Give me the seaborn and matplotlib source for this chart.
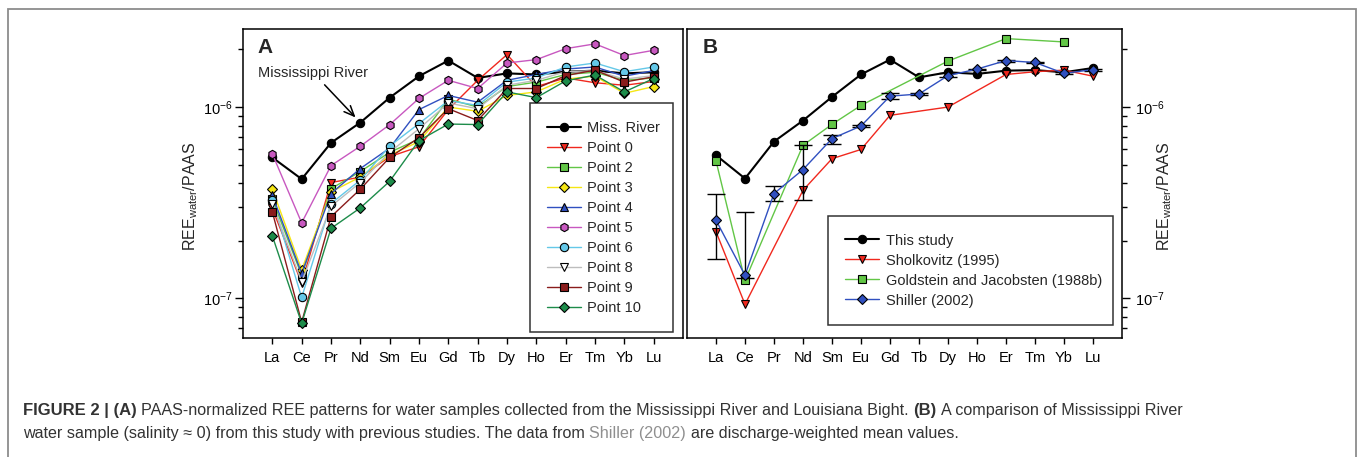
import numpy as np
import pandas as pd
import matplotlib
matplotlib.use("Agg")
import matplotlib.pyplot as plt
import matplotlib.ticker as mticker
from matplotlib.patches import Rectangle
import seaborn as sns

# ---------------------------------------------------------------- data
elements = ["La", "Ce", "Pr", "Nd", "Sm", "Eu", "Gd", "Tb", "Dy", "Ho", "Er", "Tm", "Yb", "Lu"]

# Panel A: PAAS-normalised REE in water samples
miss_river = [5.45e-7, 4.2e-7, 6.5e-7, 8.3e-7, 1.12e-6, 1.45e-6, 1.75e-6, 1.42e-6, 1.50e-6, 1.48e-6, 1.53e-6, 1.55e-6, 1.50e-6, 1.52e-6]
point_0 = [2.95e-7, 1.2e-7, 4.03e-7, 4.3e-7, 5.5e-7, 6.2e-7, 9.7e-7, 1.38e-6, 1.88e-6, 1.28e-6, 1.42e-6, 1.34e-6, 1.30e-6, 1.36e-6]
point_2 = [3.3e-7, 1.32e-7, 3.74e-7, 4.6e-7, 5.8e-7, 6.8e-7, 1.10e-6, 1.0e-6, 1.28e-6, 1.35e-6, 1.48e-6, 1.52e-6, 1.38e-6, 1.42e-6]
point_3 = [3.72e-7, 1.41e-7, 3.6e-7, 4.31e-7, 5.6e-7, 6.6e-7, 1.0e-6, 9.5e-7, 1.15e-6, 1.2e-6, 1.40e-6, 1.45e-6, 1.18e-6, 1.28e-6]
point_4 = [3.46e-7, 1.35e-7, 3.53e-7, 4.77e-7, 6.1e-7, 9.7e-7, 1.15e-6, 1.06e-6, 1.38e-6, 1.48e-6, 1.58e-6, 1.62e-6, 1.45e-6, 1.55e-6]
point_5 = [5.69e-7, 2.48e-7, 4.94e-7, 6.24e-7, 8.09e-7, 1.11e-6, 1.38e-6, 1.25e-6, 1.70e-6, 1.77e-6, 2.02e-6, 2.14e-6, 1.86e-6, 1.98e-6]
point_6 = [3.26e-7, 1.01e-7, 3.13e-7, 4.15e-7, 6.25e-7, 8.2e-7, 1.08e-6, 1.02e-6, 1.35e-6, 1.42e-6, 1.62e-6, 1.70e-6, 1.53e-6, 1.62e-6]
point_8 = [3.13e-7, 1.22e-7, 3.03e-7, 4.03e-7, 5.8e-7, 7.7e-7, 1.05e-6, 9.8e-7, 1.30e-6, 1.38e-6, 1.53e-6, 1.55e-6, 1.40e-6, 1.46e-6]
point_9 = [2.83e-7, 7.5e-8, 2.67e-7, 3.72e-7, 5.45e-7, 6.92e-7, 9.8e-7, 8.5e-7, 1.25e-6, 1.25e-6, 1.46e-6, 1.56e-6, 1.35e-6, 1.44e-6]
point_10 = [2.12e-7, 7.4e-8, 2.32e-7, 2.97e-7, 4.09e-7, 6.68e-7, 8.15e-7, 8.1e-7, 1.20e-6, 1.12e-6, 1.37e-6, 1.47e-6, 1.20e-6, 1.41e-6]

# Panel B: comparison with earlier studies
nan = np.nan
this_study = [5.6e-7, 4.23e-7, 6.6e-7, 8.5e-7, 1.13e-6, 1.48e-6, 1.77e-6, 1.43e-6, 1.52e-6, 1.49e-6, 1.55e-6, 1.56e-6, 1.52e-6, 1.60e-6]
sholkovitz = [2.23e-7, 9.3e-8, nan, 3.67e-7, 5.37e-7, 6.0e-7, 9.05e-7, nan, 1.0e-6, nan, 1.48e-6, 1.53e-6, 1.56e-6, 1.45e-6]
goldstein = [5.23e-7, 1.24e-7, nan, 6.31e-7, 8.12e-7, 1.02e-6, nan, nan, 1.74e-6, nan, 2.28e-6, nan, 2.19e-6, nan]
shiller = [2.56e-7, 1.32e-7, 3.53e-7, 4.71e-7, 6.84e-7, 7.96e-7, 1.14e-6, 1.17e-6, 1.46e-6, 1.58e-6, 1.75e-6, 1.71e-6, 1.50e-6, 1.57e-6]
shiller_err_low = [0.96e-7, 0.05e-7, 0.31e-7, 1.45e-7, 0.40e-7, 0.10e-7, 0.04e-6, 0.01e-6, 0.03e-6, 0.01e-6, 0.02e-6, 0.02e-6, 0.02e-6, 0.02e-6]
shiller_err_high = [0.94e-7, 1.51e-7, 0.33e-7, 1.60e-7, 0.26e-7, 0.10e-7, 0.05e-6, 0.01e-6, 0.04e-6, 0.01e-6, 0.02e-6, 0.02e-6, 0.02e-6, 0.02e-6]

# ---------------------------------------------------------------- style
sns.set_theme(style="ticks")
plt.rcParams["font.family"] = ["Liberation Sans", "DejaVu Sans"]
plt.rcParams["mathtext.fontset"] = "custom"
plt.rcParams["mathtext.rm"] = "Liberation Sans"
plt.rcParams["mathtext.it"] = "Liberation Sans:italic"
plt.rcParams["mathtext.bf"] = "Liberation Sans:bold"

W, H = 1358, 457
fig = plt.figure(figsize=(W / 100, H / 100), dpi=100)
fig.patch.set_facecolor("white")

def px_rect(x0, x1, ytop, ybot):
    return [x0 / W, 1 - ybot / H, (x1 - x0) / W, (ybot - ytop) / H]

axA = fig.add_axes(px_rect(243, 683, 29.3, 338))
axB = fig.add_axes(px_rect(687, 1122, 29.3, 338))

FS = 10.5
xpos = np.arange(len(elements))
YLIM = (6.2e-8, 2.55e-6)


def draw_series(ax, values, label, color, marker, mfc=None, lw=1.0, ms=6.0, zorder=2):
    df = pd.DataFrame({"x": xpos, "y": values}).dropna()
    sns.lineplot(data=df, x="x", y="y", ax=ax, color=color, marker=marker,
                 markersize=ms, markerfacecolor=mfc if mfc else color,
                 markeredgecolor="black", markeredgewidth=0.8, linewidth=lw,
                 label=label, legend=False, zorder=zorder)


def style_axis(ax, right=False):
    ax.set_yscale("log")
    ax.set_ylim(*YLIM)
    ax.set_xlim(-1, 14)
    ax.set_xticks(xpos)
    ax.set_xticklabels(elements, fontsize=FS)
    ax.yaxis.set_major_locator(mticker.FixedLocator([1e-7, 1e-6]))
    ax.yaxis.set_major_formatter(mticker.FixedFormatter([r"$\mathregular{10^{-7}}$", r"$\mathregular{10^{-6}}$"]))
    ax.yaxis.set_minor_locator(mticker.LogLocator(base=10, subs=np.arange(2, 10)))
    ax.yaxis.set_minor_formatter(mticker.NullFormatter())
    for s in ax.spines.values():
        s.set_linewidth(1.1)
        s.set_color("black")
        s.set_visible(True)
    ax.tick_params(axis="x", which="both", direction="out", length=4.3, width=1.0,
                   pad=5, labelsize=FS, colors="black", top=False, bottom=True)
    ax.tick_params(axis="y", which="major", direction="out", length=5.8, width=1.0,
                   labelsize=FS, colors="black")
    ax.tick_params(axis="y", which="minor", direction="out", length=3.4, width=1.0,
                   colors="black")
    ylabel = r"REE$_{\mathregular{water}}$/PAAS"
    if right:
        ax.yaxis.tick_right()
        ax.tick_params(axis="y", which="both", left=False, right=True, pad=3.6)
        ax.yaxis.set_label_position("right")
        ax.set_ylabel(ylabel, fontsize=11.5)
        ax.yaxis.set_label_coords(1.076, 0.458)
    else:
        ax.tick_params(axis="y", which="both", left=True, right=False, pad=2.0)
        ax.set_ylabel(ylabel, fontsize=11.5)
        ax.yaxis.set_label_coords(-0.098, 0.458)
    ax.set_xlabel("")
    ax.grid(False)
    ax.set_facecolor("white")


LEG_KW = dict(loc="lower left", mode="expand", frameon=True, fancybox=False, fontsize=FS,
              handlelength=2.3, handletextpad=0.45, borderpad=1.2, labelspacing=0.41,
              borderaxespad=0)

# ---------------------------------------------------------------- panel A
series_A = [
    (miss_river, "Miss. River", "black", "o", None, 1.5),
    (point_0, "Point 0", "#f0281e", "v", None, 1.0),
    (point_2, "Point 2", "#62c646", "s", None, 1.0),
    (point_3, "Point 3", "#f5e614", "D", None, 1.0),
    (point_4, "Point 4", "#3050c0", "^", None, 1.0),
    (point_5, "Point 5", "#c858c0", "h", None, 1.0),
    (point_6, "Point 6", "#64c8e8", "o", None, 1.0),
    (point_8, "Point 8", "#bdbdbd", "v", "white", 1.0),
    (point_9, "Point 9", "#8a1c1c", "s", None, 1.0),
    (point_10, "Point 10", "#1d8c4a", "D", None, 1.0),
]
for vals, lab, col, mk, mfc, lw in series_A:
    ms = 5.2 if mk == "D" else 6.0
    draw_series(axA, vals, lab, col, mk, mfc=mfc, lw=lw, ms=ms)

style_axis(axA)
axA.text(0.05, 0.94, "A", transform=axA.transAxes, fontsize=15, fontweight="bold",
         ha="center", va="center")
axA.annotate("Mississippi River", xy=(3, miss_river[3]), xytext=(0.159, 0.86),
             textcoords="axes fraction", ha="center", va="center", fontsize=FS,
             arrowprops=dict(arrowstyle="->,head_length=0.7,head_width=0.3",
                             color="black", lw=1.1, shrinkB=5))
legA = axA.legend(bbox_to_anchor=(0.652, 0.019, 0.325, 0.73), **LEG_KW)
legA.get_frame().set_edgecolor("black")
legA.get_frame().set_linewidth(1.1)

# ---------------------------------------------------------------- panel B
axB.errorbar(xpos, shiller, yerr=[shiller_err_low, shiller_err_high], fmt="none",
             ecolor="black", elinewidth=1.0, capsize=6.2, capthick=1.0, zorder=2.5)
draw_series(axB, this_study, "This study", "black", "o", lw=1.5, zorder=2)
draw_series(axB, sholkovitz, "Sholkovitz (1995)", "#f0281e", "v", zorder=2)
draw_series(axB, goldstein, "Goldstein and Jacobsten (1988b)", "#62c646", "s", ms=5.6, zorder=2)
draw_series(axB, shiller, "Shiller (2002)", "#3050c0", "D", ms=5.2, zorder=3)

style_axis(axB, right=True)
axB.text(0.053, 0.94, "B", transform=axB.transAxes, fontsize=15, fontweight="bold",
         ha="center", va="center")
legB = axB.legend(bbox_to_anchor=(0.324, 0.042, 0.655, 0.35), **LEG_KW)
legB.get_frame().set_edgecolor("black")
legB.get_frame().set_linewidth(1.1)

# ---------------------------------------------------------------- frame and caption
fig.add_artist(Rectangle((7.5 / W, -0.05), (1356 - 7.5) / W, 1.05 - 9.3 / H,
                         transform=fig.transFigure, fill=False, edgecolor="#8c8c8c",
                         linewidth=1.3, zorder=0))

fig.canvas.draw()
renderer = fig.canvas.get_renderer()
TXT = "#333333"
LINK = "#8f8f8f"
BOLD_FS = 12.0

line1 = [("FIGURE 2 | (A)", "bold", TXT), (" PAAS-normalized REE patterns for water samples collected from the Mississippi River and Louisiana Bight.", "normal", TXT),
         (" (B)", "bold", TXT), (" A comparison of Mississippi River", "normal", TXT)]
line2 = [("water sample (salinity \u2248 0) from this study with previous studies. The data from", "normal", TXT),
         (" Shiller (2002)", "normal", LINK), (" are discharge-weighted mean values.", "normal", TXT)]


def text_width(s, size, weight):
    t = fig.text(0, 0, s, fontsize=size, fontweight=weight)
    w = t.get_window_extent(renderer).width
    t.remove()
    return w


def piece_width(s, size, weight):
    # leading spaces are measured separately so they always count
    core = s.lstrip(" ")
    n = len(s) - len(core)
    sp = text_width("a a", size, weight) - text_width("aa", size, weight)
    return n * sp + text_width(core, size, weight)


# size the regular text from the widths of the two caption lines
x_start = 23
bold_w = sum(piece_width(s, BOLD_FS, w) for s, w, c in line1 if w == "bold")
reg1_w10 = sum(piece_width(s, 10, w) for s, w, c in line1 if w != "bold")
reg2_w10 = sum(piece_width(s, 10, w) for s, w, c in line2)
fs1 = 10 * (1162 - x_start - bold_w) / reg1_w10
fs2 = 10 * (973 - x_start) / reg2_w10
REG_FS = 0.5 * (fs1 + fs2)


def draw_caption_line(pieces, ypix):
    x = x_start
    for s, w, c in pieces:
        size = BOLD_FS if w == "bold" else REG_FS
        core = s.lstrip(" ")
        x += piece_width(s, size, w) - text_width(core, size, w)
        fig.text(x / W, 1 - ypix / H, core, fontsize=size, fontweight=w, color=c,
                 ha="left", va="center")
        x += text_width(core, size, w)


draw_caption_line(line1, 410.5)
draw_caption_line(line2, 433.5)

fig.savefig("out.png", dpi=100, facecolor="white")
